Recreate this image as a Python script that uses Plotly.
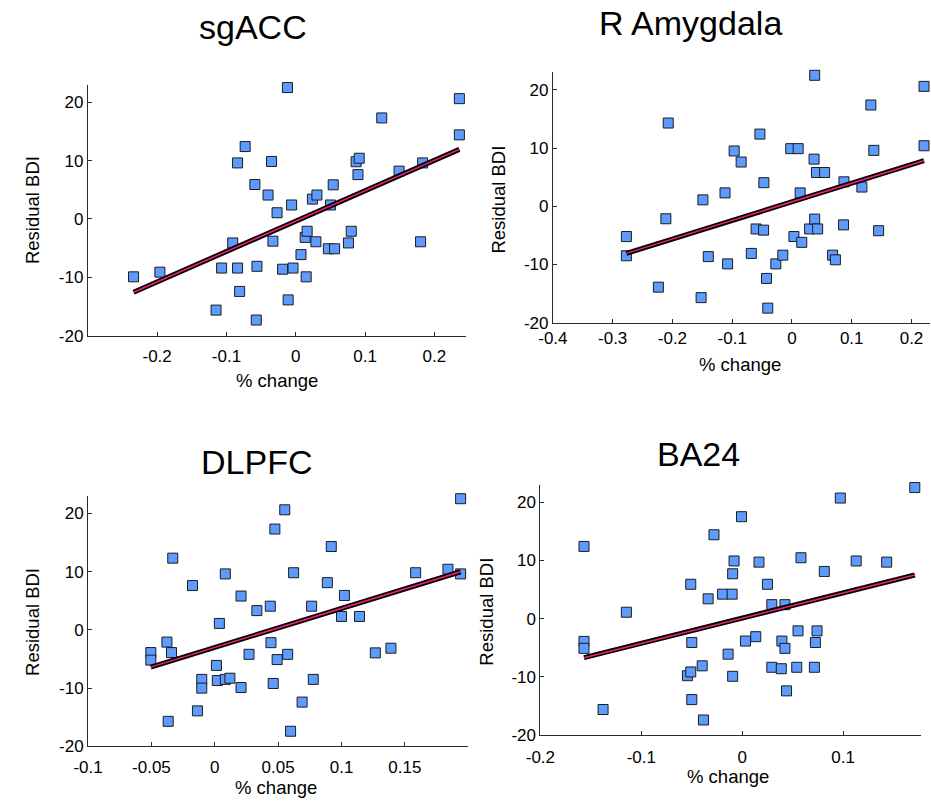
import numpy as np
import plotly.graph_objects as go

# ---------------- data ----------------
panel_titles = ["sgACC", "R Amygdala", "DLPFC", "BA24"]
x_label = "% change"
y_label = "Residual BDI"

sgacc_x = [-0.234, -0.196, -0.115, -0.107, -0.091, -0.084, -0.084, -0.081, -0.073, -0.059,
           -0.057, -0.056, -0.040, -0.035, -0.033, -0.027, -0.019, -0.012, -0.011, -0.006,
           -0.004, 0.0075, 0.0136, 0.015, 0.0164, 0.024, 0.029, 0.0305, 0.047, 0.050,
           0.054, 0.056, 0.076, 0.080, 0.087, 0.0897, 0.0915, 0.124, 0.149, 0.180,
           0.183, 0.236, 0.236]
sgacc_y = [-9.9, -9.1, -15.6, -8.4, -4.1, -8.4, 9.6, -12.4, 12.4, 5.9,
           -17.3, -8.1, 4.1, 9.85, -3.8, 1.07, -8.6, 22.5, -13.85, 2.4,
           -8.4, -6.1, -3.15, -9.9, -2.1, 3.4, -3.9, 4.1, -5.1, 2.4,
           5.85, -5.1, -4.1, -2.1, 9.8, 7.6, 10.4, 17.3, 8.2, -3.9,
           9.6, 20.6, 14.4]

amyg_x = [-0.277, -0.277, -0.207, -0.211, -0.2235, -0.149, -0.140, -0.152, -0.112, -0.1077,
          -0.0967, -0.085, -0.068, -0.060, -0.0536, -0.0475, -0.047, -0.0426, -0.0405, -0.027,
          -0.0153, -0.002, 0.0033, 0.0104, 0.0137, 0.0164, 0.0295, 0.037, 0.038, 0.038,
          0.041, 0.043, 0.0546, 0.068, 0.0727, 0.0863, 0.087, 0.117, 0.132, 0.137,
          0.145, 0.221, 0.221]
amyg_y = [-5.2, -8.5, 14.3, -2.15, -13.9, 1.1, -8.65, -15.7, 2.3, -9.9,
          9.5, 7.6, -8.1, -3.9, 12.4, -4.1, 4.05, -12.4, -17.5, -9.9,
          -8.4, 9.9, -5.2, 9.9, 2.3, -6.2, -3.9, 8.1, 22.5, -2.2,
          5.8, -3.9, 5.8, -8.4, -9.2, -3.2, 4.2, 3.3, 17.4, 9.6,
          -4.2, 20.6, 10.4]

dlpfc_x = [-0.0505, -0.0505, -0.0378, -0.0342, -0.0332, -0.0368, -0.0176, -0.0137, -0.0103, -0.0103,
           0.0036, 0.0013, 0.002, 0.0083, 0.0083, 0.0119, 0.0207, 0.0207, 0.027, 0.0332,
           0.0438, 0.0443, 0.0461, 0.0474, 0.0492, 0.0552, 0.0575, 0.0598, 0.0622, 0.0689,
           0.0764, 0.0777, 0.0888, 0.0919, 0.100, 0.1023, 0.1142, 0.1267, 0.139, 0.1585,
           0.184, 0.194, 0.194]
dlpfc_y = [-3.9, -5.2, -2.1, -3.9, 12.3, -15.7, 7.6, -13.9, -8.5, -10.0,
           1.1, -6.1, -8.7, 9.6, -8.5, -8.3, 5.8, -9.9, -4.2, 3.3,
           4.06, -2.2, -9.2, 17.3, -5.1, 20.6, -4.2, -17.4, 9.8, -12.4,
           4.06, -8.5, 8.1, 14.3, 2.3, 5.9, 2.3, -3.95, -3.15, 9.8,
           10.4, 22.5, 9.6]

ba24_x = [-0.1568, -0.1568, -0.1568, -0.1148, -0.1379, -0.028, -0.051, -0.0338, -0.050, -0.0397,
          -0.0543, -0.051, -0.050, -0.0384, 0.171, 0.0972, -0.0007, -0.0081, 0.0166, 0.0582,
          0.1129, 0.1431, 0.0813, -0.0095, 0.025, -0.0195, -0.010, 0.0293, 0.0423, 0.0553,
          0.0741, 0.0032, 0.0134, 0.0393, 0.0725, 0.0423, -0.014, -0.0095, 0.0293, 0.0387,
          0.054, 0.0715, 0.0439]
ba24_y = [12.4, -3.9, -5.1, 1.1, -15.6, 14.4, 5.9, 3.4, -4.1, -8.1,
          -9.8, -9.15, -13.9, -17.4, 22.5, 20.7, 17.5, 9.9, 9.7, 10.45,
          9.9, 9.7, 8.1, 7.7, 5.9, 4.2, 4.2, 2.4, 2.4, -2.1,
          -2.1, -3.85, -3.1, -3.85, -4.1, -5.1, -6.1, -9.9, -8.35, -8.6,
          -8.35, -8.35, -12.4]

sgacc_xticks = [-0.2, -0.1, 0, 0.1, 0.2]
sgacc_xticklabels = ["-0.2", "-0.1", "0", "0.1", "0.2"]
amyg_xticks = [-0.4, -0.3, -0.2, -0.1, 0, 0.1, 0.2]
amyg_xticklabels = ["-0.4", "-0.3", "-0.2", "-0.1", "0", "0.1", "0.2"]
dlpfc_xticks = [-0.1, -0.05, 0, 0.05, 0.1, 0.15]
dlpfc_xticklabels = ["-0.1", "-0.05", "0", "0.05", "0.1", "0.15"]
ba24_xticks = [-0.2, -0.1, 0, 0.1]
ba24_xticklabels = ["-0.2", "-0.1", "0", "0.1"]
y_ticks = [-20, -10, 0, 10, 20]
y_ticklabels = ["-20", "-10", "0", "10", "20"]

# ---------------- layout geometry (pixels of the 931x812 canvas) ----------------
W, H = 931, 812
FONT = "Liberation Sans, Arial, Helvetica, sans-serif"

panels = [
    dict(x=sgacc_x, y=sgacc_y, ticks=sgacc_xticks, labels=sgacc_xticklabels,
         xrange=[-0.3, 0.245], px=(74, 458), py=(85.7, 340), standoff=5,
         title_xy=(242, 27), ylab_xy=(18, 213), xlab_xy=(266, 385)),
    dict(x=amyg_x, y=amyg_y, ticks=amyg_xticks, labels=amyg_xticklabels,
         xrange=[-0.4, 0.231], px=(546.7, 930), py=(73.3, 326.7), standoff=0,
         title_xy=(687, 23), ylab_xy=(491, 202), xlab_xy=(737, 369)),
    dict(x=dlpfc_x, y=dlpfc_y, ticks=dlpfc_xticks, labels=dlpfc_xticklabels,
         xrange=[-0.1, 0.1995], px=(74.3, 460), py=(502, 755.7), standoff=5,
         title_xy=(245, 468), ylab_xy=(18, 630), xlab_xy=(265, 797)),
    dict(x=ba24_x, y=ba24_y, ticks=ba24_xticks, labels=ba24_xticklabels,
         xrange=[-0.2, 0.177], px=(534, 920.7), py=(490.7, 744.3), standoff=6,
         title_xy=(695, 460), ylab_xy=(479, 619), xlab_xy=(725, 786)),
]

fig = go.Figure()
annotations = []
axis_common = dict(showgrid=False, zeroline=False, showline=True, linecolor="#2b2b2b",
                   linewidth=1, ticks="inside", ticklen=4, tickcolor="#2b2b2b",
                   tickfont=dict(family=FONT, size=17, color="black"), mirror=False,
                   fixedrange=True)

for i, p in enumerate(panels):
    sfx = "" if i == 0 else str(i + 1)
    xs = np.array(p["x"], dtype=float)
    ys = np.array(p["y"], dtype=float)

    fig.add_trace(go.Scatter(
        x=xs, y=ys, mode="markers", xaxis="x" + sfx, yaxis="y" + sfx,
        marker=dict(symbol="square", size=10, color="#5e9bff",
                    line=dict(color="#1c1c1c", width=1)),
        cliponaxis=False, showlegend=False, hoverinfo="skip"))

    slope, intercept = np.polyfit(xs, ys, 1)
    lx = np.array([xs.min(), xs.max()])
    ly = slope * lx + intercept
    fig.add_trace(go.Scatter(x=lx, y=ly, mode="lines", xaxis="x" + sfx, yaxis="y" + sfx,
                             line=dict(color="black", width=5), showlegend=False,
                             hoverinfo="skip"))
    fig.add_trace(go.Scatter(x=lx, y=ly, mode="lines", xaxis="x" + sfx, yaxis="y" + sfx,
                             line=dict(color="#f2207c", width=1.5), showlegend=False,
                             hoverinfo="skip"))

    x0, x1 = p["px"]
    y0, y1 = p["py"]
    fig.layout["xaxis" + sfx] = dict(
        axis_common, domain=[x0 / W, x1 / W], range=p["xrange"], anchor="y" + sfx,
        tickmode="array", tickvals=p["ticks"], ticktext=p["labels"],
        ticklabelstandoff=p["standoff"])
    fig.layout["yaxis" + sfx] = dict(
        axis_common, domain=[1 - y1 / H, 1 - y0 / H], range=[-20, 23], anchor="x" + sfx,
        tickmode="array", tickvals=y_ticks, ticktext=y_ticklabels)

    tx, ty = p["title_xy"]
    annotations.append(dict(text=panel_titles[i], x=tx / W, y=1 - ty / H, xref="paper",
                            yref="paper", showarrow=False, xanchor="center", yanchor="middle",
                            font=dict(family=FONT, size=34, color="black")))
    lx_, ly_ = p["ylab_xy"]
    annotations.append(dict(text=y_label, x=lx_ / W, y=1 - ly_ / H, xref="paper",
                            yref="paper", showarrow=False, xanchor="center", yanchor="middle",
                            textangle=-90, font=dict(family=FONT, size=18.5, color="black")))
    xx_, xy_ = p["xlab_xy"]
    annotations.append(dict(text=x_label, x=xx_ / W, y=1 - xy_ / H, xref="paper",
                            yref="paper", showarrow=False, xanchor="center", yanchor="middle",
                            font=dict(family=FONT, size=18.5, color="black")))

fig.update_layout(
    width=W, height=H, autosize=False,
    margin=dict(l=0, r=0, t=0, b=0),
    paper_bgcolor="white", plot_bgcolor="white",
    font=dict(family=FONT, color="black"),
    annotations=annotations,
)

fig.write_html("out.html", config={"displayModeBar": False},
               post_script="document.body.style.margin='0';document.body.style.overflow='hidden';")
